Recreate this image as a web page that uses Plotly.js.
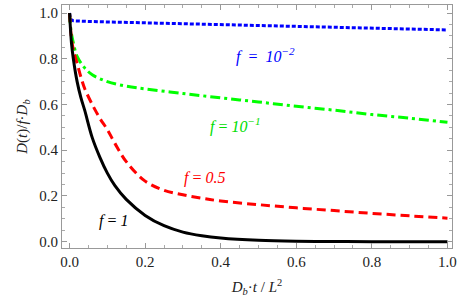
<!DOCTYPE html>
<html><head><meta charset="utf-8">
<script src="https://cdn.plot.ly/plotly-3.0.1.min.js"></script>
<style>body{margin:0;background:#fff}#p{width:463px;height:305px}
#p text, #p tspan {font-family: 'Liberation Serif', 'Times New Roman', serif !important;}</style>
</head><body><div id="p"></div>
<script>
const x1 = [0, 0.005, 0.01, 0.02, 0.03, 0.04, 0.06, 0.08, 0.1, 0.12, 0.15, 0.2, 0.25, 0.3, 0.35, 0.4, 0.5, 0.6, 0.7, 0.8, 1.0];
const y1 = [1.0, 0.87, 0.80, 0.70, 0.63, 0.575, 0.455, 0.37, 0.30, 0.245, 0.185, 0.115, 0.07, 0.042, 0.026, 0.016, 0.006, 0.002, 0.001, 0.0, 0.0];
const x05 = [0, 0.005, 0.01, 0.02, 0.03, 0.04, 0.06, 0.08, 0.1, 0.12, 0.15, 0.2, 0.25, 0.3, 0.35, 0.4, 0.5, 0.6, 0.7, 0.8, 0.9, 1.0];
const y05 = [1.0, 0.89, 0.84, 0.78, 0.72, 0.67, 0.60, 0.54, 0.49, 0.43, 0.35, 0.265, 0.225, 0.205, 0.19, 0.178, 0.162, 0.148, 0.136, 0.124, 0.113, 0.103];
const x01 = [0, 0.002, 0.005, 0.01, 0.02, 0.04, 0.06, 0.1, 0.15, 0.2, 0.3, 0.4, 0.5, 0.6, 0.7, 0.8, 0.9, 1.0];
const y01 = [1.0, 0.95, 0.91, 0.87, 0.81, 0.76, 0.73, 0.70, 0.68, 0.668, 0.648, 0.629, 0.611, 0.592, 0.575, 0.556, 0.54, 0.522];
const x001 = [0, 0.001, 0.003, 0.01, 0.05, 0.2, 0.4, 0.6, 0.8, 1.0];
const y001 = [1.0, 0.985, 0.972, 0.966, 0.963, 0.957, 0.949, 0.942, 0.934, 0.926];
const tickVals = [0, 0.2, 0.4, 0.6, 0.8, 1.0];
const tickText = ["0.0", "0.2", "0.4", "0.6", "0.8", "1.0"];
const labels = ["<i>f</i> = <i>1</i>", "<i>f</i> = <i>0.5</i>", "<i>f</i> = <i>10</i><sup><i>−1</i></sup>", "<i>f</i>  =  <i>10</i><sup><i>−2</i></sup>"];

const serif = "Liberation Serif";
const traces = [
  {x: x001, y: y001, mode: 'lines', line: {color: '#0000ff', width: 3, dash: '4px,2px'}},
  {x: x01, y: y01, mode: 'lines', line: {color: '#00ff00', width: 3, dash: '10px,4px,3px,4px', shape: 'spline'}},
  {x: x05, y: y05, mode: 'lines', line: {color: '#ff0000', width: 3, dash: '9px,5px', shape: 'spline'}},
  {x: x1, y: y1, mode: 'lines', line: {color: '#000000', width: 3, shape: 'spline'}}
];
const axisCommon = {
  showgrid: false, zeroline: false, showline: true, mirror: 'ticks',
  linecolor: '#999', linewidth: 1, ticks: 'inside', ticklen: 5, tickcolor: '#999',
  tickvals: tickVals, ticktext: tickText,
  tickfont: {family: serif, size: 15, color: '#222'},
  minor: {ticks: 'inside', ticklen: 3, dtick: 0.05, tickcolor: '#aaa', showgrid: false}
};
const layout = {
  width: 463, height: 305,
  margin: {l: 62, r: 11, t: 5, b: 57},
  showlegend: false,
  paper_bgcolor: '#fff', plot_bgcolor: '#fff',
  xaxis: Object.assign({}, axisCommon, {range: [-0.02, 1.012],
    title: {text: "<i>D<sub>b</sub></i>·<i>t</i> / <i>L</i><sup>2</sup>", font: {family: serif, size: 15, color: '#222'}, standoff: 12}}),
  yaxis: Object.assign({}, axisCommon, {range: [-0.0275, 1.035],
    title: {text: "<i>D</i>(<i>t</i>)/<i>f</i>·<i>D<sub>b</sub></i>", font: {family: serif, size: 15, color: '#222'}, standoff: 8}}),
  annotations: [
    {x: 0.116, y: 0.09, text: labels[0], font: {color: '#000', size: 16, family: serif}},
    {x: 0.357, y: 0.278, text: labels[1], font: {color: '#ff0000', size: 16, family: serif}},
    {x: 0.438, y: 0.51, text: labels[2], font: {color: '#00dd00', size: 16, family: serif}},
    {x: 0.518, y: 0.815, text: labels[3], font: {color: '#0000ff', size: 16, family: serif}}
  ].map(a => Object.assign({showarrow: false, xref: 'x', yref: 'y'}, a))
};
Plotly.newPlot('p', traces, layout, {staticPlot: true, displayModeBar: false});
</script></body></html>
